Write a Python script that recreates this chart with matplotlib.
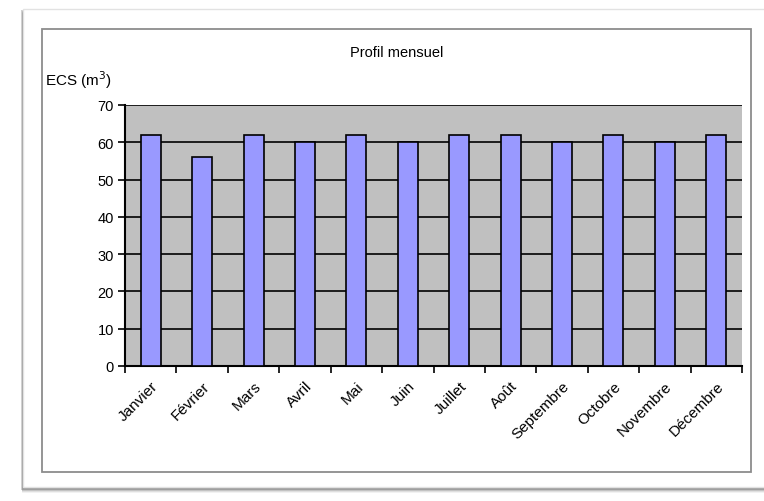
import matplotlib
matplotlib.use("Agg")
import matplotlib.pyplot as plt
from matplotlib.patches import Rectangle
import numpy as np

months = ["Janvier", "Février", "Mars", "Avril", "Mai", "Juin", "Juillet",
          "Août", "Septembre", "Octobre", "Novembre", "Décembre"]
ecs_m3 = [62, 56, 62, 60, 62, 60, 62, 62, 60, 62, 60, 62]
y_ticks = [0, 10, 20, 30, 40, 50, 60, 70]

W, H = 764, 502
fig = plt.figure(figsize=(W / 100, H / 100), dpi=100)
fig.patch.set_facecolor("white")

def px(x, y, w, h):
    return (x / W, 1 - (y + h) / H, w / W, h / H)

# soft shadow behind the card
for i, a in enumerate([0.05, 0.08, 0.12, 0.18]):
    off = 4 - i
    sx, sy, sw, sh = px(21 + off * 0.3, 10 + off, 770, 480)
    fig.patches.append(Rectangle((sx, sy), sw, sh, transform=fig.transFigure,
                                 facecolor=(0, 0, 0, a), edgecolor="none", zorder=0))
x0, y0, w0, h0 = px(23, 10, 760, 478)
fig.patches.append(Rectangle((x0, y0), w0, h0, transform=fig.transFigure,
                             facecolor="white", edgecolor="#e2e2e2", lw=1, zorder=1))
# chart area border
x1, y1, w1, h1 = px(42, 30, 709, 443)
fig.patches.append(Rectangle((x1, y1), w1, h1, transform=fig.transFigure,
                             facecolor="white", edgecolor="#8c8c8c", lw=1.3, zorder=2))

ax = fig.add_axes(px(125, 106, 617, 261))
ax.set_zorder(3)
ax.set_facecolor("#c0c0c0")

x = np.arange(len(months))
ax.bar(x, ecs_m3, width=0.39, color="#9999ff", edgecolor="black", linewidth=1.2, zorder=3)

ax.set_xlim(-0.5, len(months) - 0.5)
ax.set_ylim(0, 70)
ax.set_yticks(y_ticks)
ax.set_yticklabels([str(v) for v in y_ticks], fontsize=10.5, family="Liberation Sans")
ax.yaxis.grid(True, color="black", linewidth=1.2, zorder=1)
ax.set_axisbelow(True)

ax.set_xticks(np.arange(-0.5, len(months), 1))
ax.set_xticklabels([])
ax.set_xticks(x, minor=True)
ax.set_xticklabels(months, minor=True, rotation=45, ha="right", va="top",
                   rotation_mode="anchor", fontsize=11, family="Liberation Sans")
ax.tick_params(axis="x", which="major", direction="out", length=5, width=1.2)
ax.tick_params(axis="x", which="minor", length=0, pad=9)
ax.tick_params(axis="y", direction="out", length=5, width=1.2, pad=3)

for s in ["top", "right"]:
    ax.spines[s].set_visible(False)
ax.spines["left"].set_linewidth(1.5)
ax.spines["bottom"].set_linewidth(1.5)

fig.text(397 / W, 1 - 53 / H, "Profil mensuel", ha="center", va="center",
         fontsize=10.5, family="Liberation Sans")
fig.text(45 / W, 1 - 80 / H, "ECS (m$^3$)", ha="left", va="center",
         fontsize=11, family="Liberation Sans")

fig.savefig("out.png", dpi=100)
